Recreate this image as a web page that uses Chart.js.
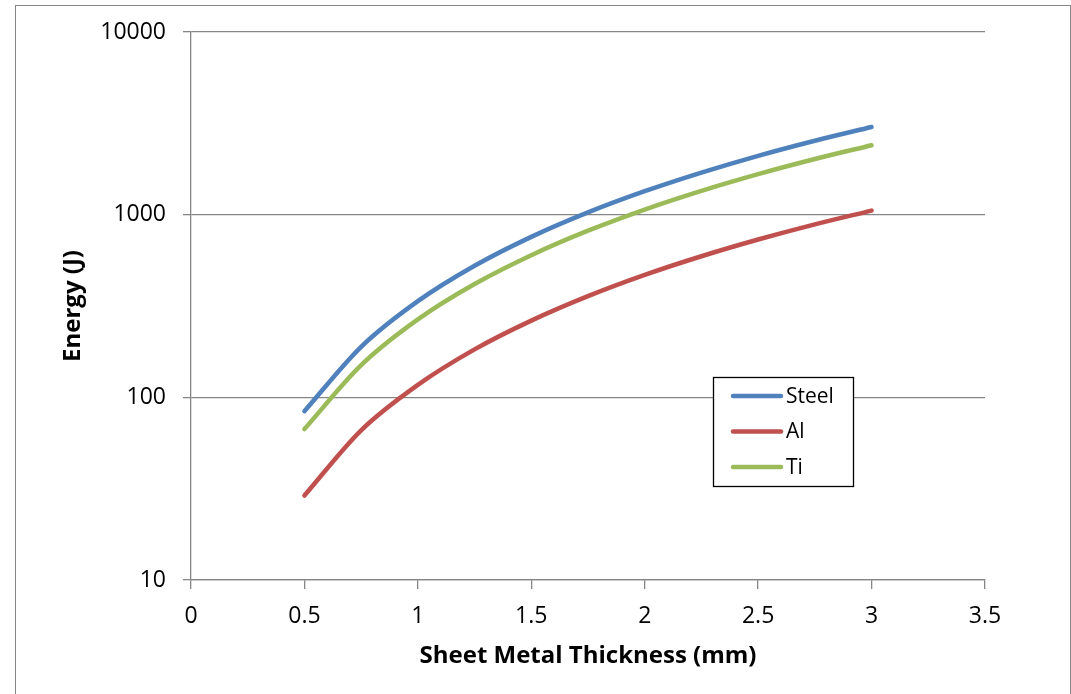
<!DOCTYPE html>
<html>
<head>
<meta charset="utf-8">
<script src="https://cdn.jsdelivr.net/npm/chart.js@4/dist/chart.umd.min.js"></script>
<style>
  html, body { margin: 0; padding: 0; background: #fff; }
  canvas { display: block; }
</style>
</head>
<body>
<canvas id="energy-chart" width="1071" height="694"></canvas>
<script>
// thickness in mm
const thickness = [0.5, 0.75, 1, 1.25, 1.5, 1.75, 2, 2.25, 2.5, 2.75, 3]
// energy in J
const steel = [84, 189, 336, 525, 756, 1029, 1344, 1700, 2100, 2540, 3020]
const al = [29, 66, 117, 183, 263, 358, 468, 592, 731, 885, 1053]
const ti = [67, 150, 267, 417, 600, 817, 1067, 1350, 1667, 2017, 2400]
const yTicks = [10, 100, 1000, 10000]

const seriesNames = ['Steel', 'Al', 'Ti']
const seriesColors = ['#4F81BD', '#C0504D', '#9BBB59']

const toPoints = (vals) => thickness.map((t, i) => ({ x: t, y: vals[i] }))

const fontFamily = "'Open Sans', sans-serif"
const gridGrey = '#868686'

// frame around the whole chart
const outerBorder = {
    id: 'outerBorder',
    beforeDraw(chart) {
        const c = chart.ctx
        c.save()
        c.fillStyle = '#fff'
        c.fillRect(0, 0, chart.width, chart.height)
        c.strokeStyle = gridGrey
        c.lineWidth = 1
        c.strokeRect(15.5, 5.5, 1055, 720)
        c.restore()
    }
}

// legend box sitting inside the plot area
const boxLegend = {
    id: 'boxLegend',
    afterDatasetsDraw(chart) {
        const c = chart.ctx
        const x = 713.5, y = 377.5, w = 140, h = 109
        c.save()
        c.fillStyle = '#fff'
        c.fillRect(x, y, w, h)
        c.strokeStyle = '#000'
        c.lineWidth = 1.3
        c.strokeRect(x, y, w, h)
        c.font = '21px ' + fontFamily
        c.textBaseline = 'middle'
        chart.data.datasets.forEach((ds, i) => {
            const ly = 396 + i * 35.5
            c.strokeStyle = ds.borderColor
            c.lineWidth = 4.5
            c.lineCap = 'round'
            c.beginPath()
            c.moveTo(733, ly)
            c.lineTo(781, ly)
            c.stroke()
            c.fillStyle = '#000'
            c.fillText(ds.label, 786, ly + 1)
        })
        c.restore()
    }
}

new Chart(document.getElementById('energy-chart'), {
    type: 'line',
    data: {
        datasets: [steel, al, ti].map((vals, i) => ({
            label: seriesNames[i],
            data: toPoints(vals),
            borderColor: seriesColors[i],
            backgroundColor: seriesColors[i],
            borderWidth: 4.5,
            borderCapStyle: 'round',
            pointRadius: 0,
            fill: false,
            cubicInterpolationMode: 'monotone'
        }))
    },
    options: {
        responsive: false,
        animation: false,
        devicePixelRatio: 1,
        layout: {
            padding: { top: 32, right: 86, left: 0, bottom: 0 }
        },
        scales: {
            x: {
                type: 'linear',
                min: 0,
                max: 3.5,
                ticks: {
                    stepSize: 0.5,
                    color: '#000',
                    padding: 14,
                    maxRotation: 0,
                    font: { family: fontFamily, size: 23 },
                    callback: (v) => String(v)
                },
                grid: {
                    drawOnChartArea: false,
                    drawTicks: true,
                    tickLength: 9,
                    color: gridGrey,
                    lineWidth: 1.3
                },
                border: { color: gridGrey, width: 1.3 },
                title: {
                    display: true,
                    text: 'Sheet Metal Thickness (mm)',
                    color: '#000',
                    font: { family: fontFamily, size: 24, weight: 'bold' },
                    padding: { top: 0, bottom: 23 }
                },
                afterFit(scale) { scale.height = 114 }
            },
            y: {
                type: 'logarithmic',
                min: 10,
                max: 10000,
                afterBuildTicks(scale) {
                    scale.ticks = yTicks.map(v => ({ value: v, major: true }))
                },
                ticks: {
                    color: '#000',
                    padding: 17,
                    font: { family: fontFamily, size: 23 },
                    callback: (v) => String(v)
                },
                grid: {
                    drawOnChartArea: true,
                    drawTicks: true,
                    tickLength: 8,
                    color: gridGrey,
                    lineWidth: 1.3
                },
                border: { color: gridGrey, width: 1.3 },
                title: {
                    display: true,
                    text: 'Energy (J)',
                    color: '#000',
                    font: { family: fontFamily, size: 24, weight: 'bold' },
                    padding: { top: 59, bottom: 0 }
                },
                afterFit(scale) { scale.width = 191 }
            }
        },
        plugins: {
            legend: { display: false },
            tooltip: { enabled: false }
        }
    },
    plugins: [outerBorder, boxLegend]
})
</script>
</body>
</html>
